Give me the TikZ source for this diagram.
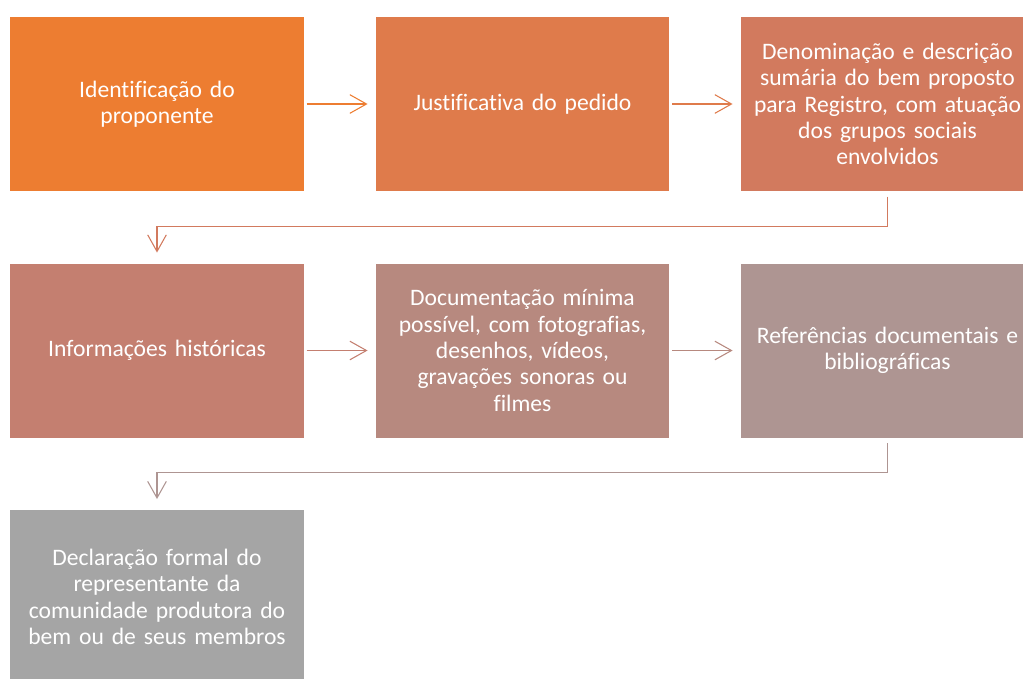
\documentclass[tikz,border=0pt]{standalone}
\usepackage{fontspec}
\setmainfont{Carlito}[Ligatures=NoCommon]
\usetikzlibrary{arrows.meta, calc}

\definecolor{stepA}{HTML}{ED7D31}
\definecolor{stepB}{HTML}{DF7B4B}
\definecolor{stepC}{HTML}{D27A5E}
\definecolor{stepD}{HTML}{C47F70}
\definecolor{stepE}{HTML}{B7897F}
\definecolor{stepF}{HTML}{AE9592}
\definecolor{stepG}{HTML}{A5A5A5}

\tikzset{
  stepbox/.style={rectangle, fill=#1, text=white, inner sep=0pt,
    minimum width=220pt, minimum height=130.5pt, text width=215pt,
    align=center, font=\fontsize{17.7}{19.8}\selectfont},
  flow/.style={draw=#1, line width=0.8pt,
    -{Straight Barb[length=12.5pt, width=14pt, line width=0.8pt]}}
}

\begin{document}
\begin{tikzpicture}[x=0.75pt, y=-0.75pt]

 %%Paramaters
%% column / row centres, in pixels of the page
\def\colA{157}
\def\colB{522.5}
\def\colC{887.5}
\def\rowA{104}
\def\rowB{350.5}
\def\rowC{597}

\useasboundingbox (0, 0) rectangle (1023, 678);
\clip (0, 0) rectangle (1023, 678);

 %% ***Row 1***
\node[stepbox=stepA] (ident) at (\colA, \rowA) {Identificação do\\ proponente};
\node[stepbox=stepB] (justif) at (\colB, \rowA) {Justificativa do pedido};
\node[stepbox=stepC] (denom) at (\colC, \rowA) {Denominação e descrição\\ sumária do bem proposto\\ para Registro, com atuação\\ dos grupos sociais\\ envolvidos};

 %% ***Row 2***
\node[stepbox=stepD] (hist) at (\colA, \rowB) {Informações históricas};
\node[stepbox=stepE] (docum) at (\colB, \rowB) {Documentação mínima\\ possível, com fotografias,\\ desenhos, vídeos,\\ gravações sonoras ou\\ filmes};
\node[stepbox=stepF] (refer) at (\colC, \rowB) {Referências documentais e\\ bibliográficas};

 %% ***Row 3***
\node[stepbox=stepG] (decl) at (\colA, \rowC) {Declaração formal do\\ representante da\\ comunidade produtora do\\ bem ou de seus membros};

%% arrows inside a row
\draw[flow=stepA] ([xshift=2pt]ident.east) -- ([xshift=-6pt]justif.west);
\draw[flow=stepB] ([xshift=2pt]justif.east) -- ([xshift=-6pt]denom.west);
\draw[flow=stepD] ([xshift=2pt]hist.east) -- ([xshift=-6pt]docum.west);
\draw[flow=stepE] ([xshift=2pt]docum.east) -- ([xshift=-6pt]refer.west);

%% arrows from one row to the next
\draw[flow=stepC] ([yshift=-4pt]denom.south) -- ++(0, 30) -| ([yshift=8pt]hist.north);
\draw[flow=stepF] ([yshift=-4pt]refer.south) -- ++(0, 29) -| ([yshift=8pt]decl.north);
\end{tikzpicture}
\end{document}
